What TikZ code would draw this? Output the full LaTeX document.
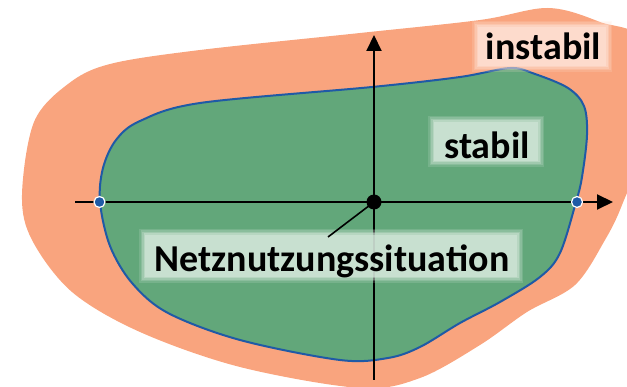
\documentclass[tikz,border=0pt]{standalone}
\usepackage{fontspec}
\setmainfont{Carlito}
\usetikzlibrary{arrows.meta}
\definecolor{orangefill}{HTML}{F9A47E}
\definecolor{greenfill}{HTML}{62A77A}
\definecolor{blueline}{HTML}{1F5AA6}
\definecolor{labelgreen}{HTML}{D4E7DA}
\definecolor{labelpeach}{HTML}{FEE2D5}
\tikzset{
  axisline/.style={line width=2pt, -{Triangle[length=16pt,width=15pt]}},
  softlayer/.style={fill=#1, inner sep=0pt, draw=none},
  lbl/.style={font=\fontsize{38}{44}\selectfont\bfseries, inner sep=0pt, anchor=base},
  bluedot/.style={circle, fill=blueline, draw=white, line width=1.2pt, minimum size=11pt, inner sep=0pt},
}
% soft-edged label background: name, centre, width, height, colour
\newcommand\mysoftbox[5]{%
  \foreach \e/\o in {5/0.18,3.5/0.22,2/0.3,0.5/0.45}{%
    \node[softlayer=#5, fill opacity=\o, minimum width=#3+2*\e, minimum height=#4+2*\e] at (#2) {};}
  \node[softlayer=#5, fill opacity=0.6, minimum width=#3-2, minimum height=#4-2] (#1) at (#2) {};}
\begin{document}
\begin{tikzpicture}[x=1pt,y=-1pt]
\useasboundingbox (0,0) rectangle (627,387);
\clip (0,0) rectangle (627,387);
% unstable region
\fill[orangefill] plot[smooth cycle, tension=0.55] coordinates {
 (22,195) (34,122) (68,84) (110,64) (200,50) (360,33) (480,20) (548,8)
 (600,22) (645,45) (640,150) (622,205) (605,240) (575,285) (527,312) (480,345)
 (420,378) (360,388) (240,367) (140,332) (72,292) (32,240)};
% stable region
\filldraw[fill=greenfill, draw=blueline, line width=2pt] plot[smooth cycle, tension=0.55] coordinates {
 (100,202) (103,168) (116,140) (140,121) (200,103) (372,87) (460,77) (510,68)
 (535,74) (568,88) (584,106) (587,135) (582,177) (576,202) (560,253)
 (540,277) (500,302) (460,323) (420,347) (388,358) (340,360) (240,340)
 (168,313) (132,283) (110,246)};
% axes
\coordinate (xl) at (75,202);
\coordinate (xr) at (613,202);
\coordinate (yb) at (374,380);
\coordinate (yt) at (374,35);
\draw[axisline] (xl) -- (xr);
\draw[axisline] (yb) -- (yt);
% labels
\mysoftbox{netzbox}{331,256}{374}{44}{labelgreen}
\node[lbl] (netz) at (332,272) {Netznutzungssituation};
\mysoftbox{stabilbox}{486,141.5}{106}{41}{labelgreen}
\node[lbl] (stabil) at (487,159) {stabil};
\mysoftbox{instabilbox}{542,46.5}{130}{41}{labelpeach}
\node[lbl] (instabil) at (543.5,60) {instabil};
% points
\node[circle, fill=black, minimum size=15pt, inner sep=0pt] (op) at (374,202) {};
\coordinate (leadend) at (328,237);
\draw[line width=1.6pt] (op.center) -- (leadend);
\node[bluedot] (pl) at (99.5,202) {};
\node[bluedot] (pr) at (577,202) {};
\end{tikzpicture}
\end{document}
